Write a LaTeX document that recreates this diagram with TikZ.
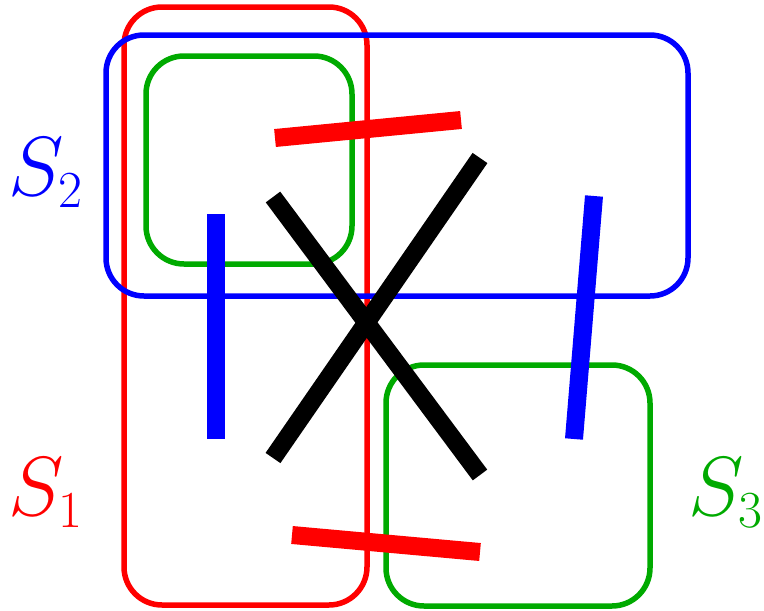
\documentclass[tikz,border=0pt]{standalone}
\usepackage{fix-cm}
\DeclareMathSizes{84}{84}{52}{42}
\definecolor{sred}{RGB}{255,0,0}
\definecolor{sblue}{RGB}{0,0,255}
\definecolor{sgreen}{RGB}{0,170,0}
\tikzset{
  setbox/.style={line width=5.5pt, rounded corners=38pt},
  bar/.style={line width=18pt, line cap=butt},
  setlabel/.style={anchor=base west, inner sep=0pt, font=\fontsize{84}{86}\selectfont}
}
\begin{document}
\begin{tikzpicture}[x=1pt,y=-1pt]
\useasboundingbox (0,0) rectangle (764,611);
% set outlines
\draw[setbox, sred] (124,7) rectangle (367,605);
\draw[setbox, sblue] (106,35) rectangle (688,296);
\draw[setbox, sgreen] (146,56) rectangle (352,264);
\draw[setbox, sgreen] (386,365) rectangle (650,606);
% bar endpoints
\coordinate (r1a) at (275,138); \coordinate (r1b) at (461,120);
\coordinate (r2a) at (292,535); \coordinate (r2b) at (480,552);
\coordinate (b1a) at (216,214); \coordinate (b1b) at (216,439);
\coordinate (b2a) at (594,196); \coordinate (b2b) at (574,439);
\coordinate (k1a) at (273,197); \coordinate (k1b) at (480,475);
\coordinate (k2a) at (273,458); \coordinate (k2b) at (480,158);
\draw[bar, sred] (r1a) -- (r1b);
\draw[bar, sred] (r2a) -- (r2b);
\draw[bar, sblue] (b1a) -- (b1b);
\draw[bar, sblue] (b2a) -- (b2b);
\draw[bar, black] (k1a) -- (k1b);
\draw[bar, black] (k2a) -- (k2b);
% labels
\node[setlabel, text=sblue] (l2) at (8,195) {$S_2$};
\node[setlabel, text=sred] (l1) at (8,515) {$S_1$};
\node[setlabel, text=sgreen] (l3) at (688,515) {$S_3$};
\end{tikzpicture}
\end{document}
